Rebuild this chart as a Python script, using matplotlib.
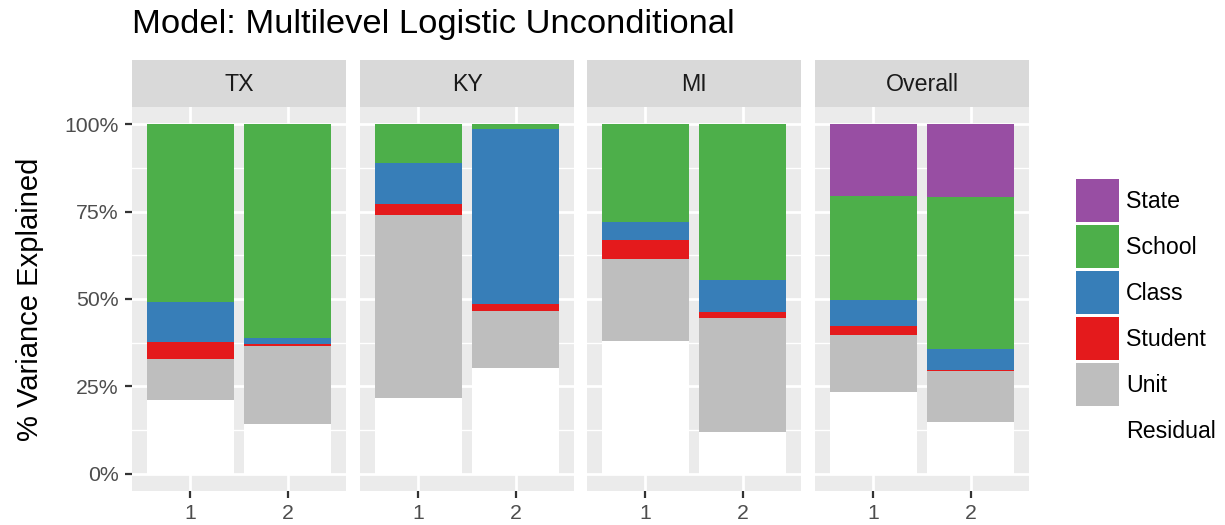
import matplotlib
matplotlib.use("Agg")
import matplotlib.pyplot as plt
from matplotlib.patches import Rectangle
import numpy as np

plt.rcParams['font.family'] = ['Liberation Sans', 'DejaVu Sans']

# ---- data (percent of variance explained, per component) ----
panels = ["TX", "KY", "MI", "Overall"]
groups = ["1", "2"]
components = ["Residual", "Unit", "Student", "Class", "School", "State"]
colors = {"State": "#984EA3", "School": "#4DAF4A", "Class": "#377EB8",
          "Student": "#E41A1C", "Unit": "#BEBEBE", "Residual": "#FFFFFF"}

residual = {"TX": [21.2, 14.1], "KY": [21.5, 30.1], "MI": [38.1, 11.8], "Overall": [23.5, 14.9]}
unit     = {"TX": [11.5, 22.5], "KY": [52.5, 16.6], "MI": [23.3, 32.7], "Overall": [16.1, 14.4]}
student  = {"TX": [4.9, 0.6],   "KY": [3.1, 2.0],   "MI": [5.4, 1.7],   "Overall": [2.8, 0.3]}
klass    = {"TX": [11.6, 1.7],  "KY": [11.8, 49.9], "MI": [5.2, 9.3],   "Overall": [7.2, 6.0]}
school   = {"TX": [50.8, 61.1], "KY": [11.1, 1.4],  "MI": [28.0, 44.5], "Overall": [30.0, 43.5]}
state    = {"TX": [0.0, 0.0],   "KY": [0.0, 0.0],   "MI": [0.0, 0.0],   "Overall": [20.4, 20.9]}
series = {"Residual": residual, "Unit": unit, "Student": student,
          "Class": klass, "School": school, "State": state}

title = "Model: Multilevel Logistic Unconditional"
ylabel = "% Variance Explained"
yticks = [0, 25, 50, 75, 100]
ytick_labels = ["0%", "25%", "50%", "75%", "100%"]

# ---- layout (pixels) ----
W, H = 1225, 525
fig = plt.figure(figsize=(W / 100, H / 100), dpi=100)
panel_lefts = [132, 360, 587, 815]
panel_w = 214
panel_top, panel_bot = 107, 491
strip_top = 60

def fx(px):
    return px / W

def fy(py):
    return 1 - py / H

TS = 16.7   # strip/legend text size
TK = 15.3   # tick label size
for i, p in enumerate(panels):
    left = panel_lefts[i]
    ax = fig.add_axes([fx(left), fy(panel_bot), fx(panel_w), (panel_bot - panel_top) / H])
    ax.set_facecolor("#EBEBEB")
    x = np.arange(1, len(groups) + 1)
    bottom = np.zeros(len(groups))
    for c in components:
        vals = np.array(series[c][p]) / 100.0
        ax.bar(x, vals, width=0.9, bottom=bottom, color=colors[c], linewidth=0, zorder=3)
        bottom = bottom + vals
    ax.set_xlim(0.4, 2.6)
    ax.set_ylim(-0.05, 1.05)
    ax.set_xticks(x)
    ax.set_xticklabels(groups)
    ax.set_yticks([t / 100 for t in yticks])
    ax.set_yticks([0.125, 0.375, 0.625, 0.875], minor=True)
    ax.grid(which="major", color="white", linewidth=2.0, zorder=0)
    ax.grid(which="minor", axis="y", color="white", linewidth=1.0, zorder=0)
    ax.set_axisbelow(True)
    for s in ax.spines.values():
        s.set_visible(False)
    ax.tick_params(axis="both", which="major", length=5, width=1.6, color="#333333",
                   labelsize=TK, labelcolor="#4D4D4D", pad=4.5)
    ax.tick_params(axis="both", which="minor", length=0)
    if i == 0:
        ax.set_yticklabels(ytick_labels)
    else:
        ax.tick_params(axis="y", which="both", left=False, labelleft=False)
    # strip
    sax = fig.add_axes([fx(left), fy(panel_top), fx(panel_w), (panel_top - strip_top) / H])
    sax.set_facecolor("#D9D9D9")
    sax.set_xticks([])
    sax.set_yticks([])
    for s in sax.spines.values():
        s.set_visible(False)
    sax.text(0.5, 0.47, p, ha="center", va="center", fontsize=TS, color="#1A1A1A",
             transform=sax.transAxes)

fig.text(fx(132), fy(24), title, ha="left", va="center", fontsize=24.8, color="black")
fig.text(fx(30), fy((panel_top + panel_bot) / 2), ylabel, rotation=90, ha="center",
         va="center", fontsize=21, color="black")

# legend (top to bottom: State ... Residual), drawn in pixel coordinates
lax = fig.add_axes([0, 0, 1, 1], facecolor="none")
lax.set_xlim(0, W)
lax.set_ylim(H, 0)
lax.axis("off")
key_x, key_w, key_h, key_step, key_top = 1076, 43, 43, 46, 179
for k, c in enumerate(components[::-1]):
    y0 = key_top + k * key_step
    lax.add_patch(Rectangle((key_x, y0), key_w, key_h, facecolor=colors[c], edgecolor="none"))
    lax.text(1126, y0 + key_h / 2 + 1, c, ha="left", va="center", fontsize=TS, color="black")

fig.savefig("out.png", dpi=100)
